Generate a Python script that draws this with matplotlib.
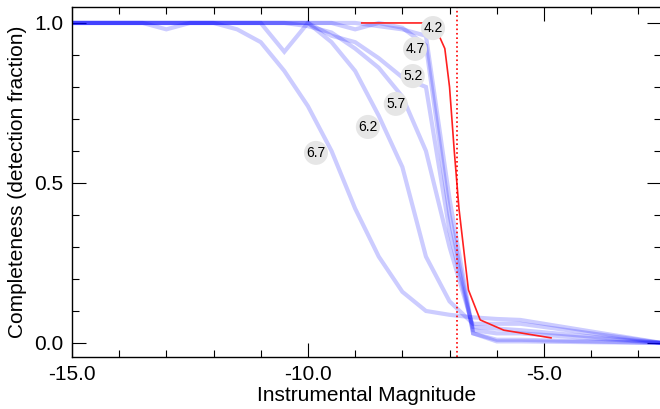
import matplotlib
matplotlib.use('Agg')
import matplotlib.pyplot as plt
from matplotlib.ticker import MultipleLocator, FormatStrFormatter

plt.rcParams['font.family'] = ['Liberation Sans', 'DejaVu Sans']

# magnitude bins of the simulated-star curves
mag = [-15.0, -14.5, -14.0, -13.5, -13.0, -12.5, -12.0, -11.5, -11.0, -10.5,
       -10.0, -9.5, -9.0, -8.5, -8.0, -7.5, -7.0, -6.5, -6.0, -5.5, -2.5]

# completeness per curve (label = value in the grey circle)
c67 = [1.00, 1.00, 1.00, 1.00, 1.00, 1.00, 1.00, 0.98, 0.94, 0.85,
       0.74, 0.60, 0.42, 0.27, 0.16, 0.10, 0.088, 0.080, 0.075, 0.072, 0.0]
c62 = [1.00, 1.00, 1.00, 1.00, 1.00, 1.00, 1.00, 1.00, 1.00, 0.91,
       1.00, 0.94, 0.85, 0.71, 0.55, 0.27, 0.13, 0.06, 0.06, 0.06, 0.0]
c57 = [1.00, 1.00, 1.00, 1.00, 0.98, 1.00, 1.00, 1.00, 1.00, 1.00,
       0.99, 0.97, 0.92, 0.86, 0.77, 0.60, 0.30, 0.05, 0.045, 0.04, 0.0]
c52 = [1.00, 1.00, 1.00, 1.00, 1.00, 1.00, 1.00, 1.00, 1.00, 1.00,
       1.00, 0.96, 0.94, 0.89, 0.83, 0.80, 0.35, 0.04, 0.03, 0.03, 0.0]
c47 = [1.00, 1.00, 1.00, 1.00, 1.00, 1.00, 1.00, 1.00, 1.00, 1.00,
       1.00, 1.00, 0.98, 1.00, 0.985, 0.93, 0.40, 0.03, 0.01, 0.01, 0.0]
c42 = [1.00, 1.00, 1.00, 1.00, 1.00, 1.00, 1.00, 1.00, 1.00, 1.00,
       1.00, 1.00, 1.00, 0.99, 0.98, 0.96, 0.45, 0.03, 0.005, 0.005, 0.0]
curves = [c67, c62, c57, c52, c47, c42]

# observed curve (red)
obs_mag = [-8.86, -7.35, -7.2, -7.1, -7.0, -6.9, -6.8, -6.6, -6.35, -5.85, -4.85]
obs_val = [1.00, 1.00, 0.953, 0.92, 0.80, 0.60, 0.42, 0.166, 0.072, 0.04, 0.016]

limit_mag = -6.84

# labels and where they sit (mag, completeness)
lab_txt = ['4.2', '4.7', '5.2', '5.7', '6.2', '6.7']
lab_x = [-7.35, -7.73, -7.78, -8.14, -8.73, -9.83]
lab_y = [0.984, 0.919, 0.834, 0.747, 0.675, 0.594]

fig = plt.figure(figsize=(6.6, 4.09), dpi=100)
ax = fig.add_axes([0.109, 0.127, 0.8925, 0.856])

for c in curves:
    ax.plot(mag, c, color='blue', alpha=0.2, lw=3, solid_joinstyle='miter')

ax.plot(obs_mag, obs_val, color='#ff2020', lw=1.2)
ax.axvline(limit_mag, color='red', lw=1.2, ls=':')

for t, x, y in zip(lab_txt, lab_x, lab_y):
    ax.text(x, y, t, fontsize=10, ha='center', va='center', zorder=5,
            bbox=dict(boxstyle='circle,pad=0.17', fc='#e6e6e6', ec='none'))

ax.set_xlim(-15, -2.52)
ax.set_ylim(-0.044, 1.05)
ax.xaxis.set_major_locator(MultipleLocator(5))
ax.xaxis.set_minor_locator(MultipleLocator(1))
ax.yaxis.set_major_locator(MultipleLocator(0.5))
ax.yaxis.set_minor_locator(MultipleLocator(0.1))
ax.xaxis.set_major_formatter(FormatStrFormatter('%.1f'))
ax.yaxis.set_major_formatter(FormatStrFormatter('%.1f'))
ax.tick_params(which='both', direction='in', top=True, right=True, width=0.8, labelsize=15)
ax.tick_params(which='major', length=10)
ax.tick_params(which='minor', length=5)
ax.tick_params(axis='x', which='major', pad=6)
ax.tick_params(axis='y', which='major', pad=6)
for s in ax.spines.values():
    s.set_linewidth(1.0)

ax.set_xlabel('Instrumental Magnitude', fontsize=15)
ax.set_ylabel('Completeness (detection fraction)', fontsize=15)
ax.xaxis.set_label_coords(0.5, -0.083)
ax.yaxis.set_label_coords(-0.076, 0.5)

fig.savefig('out.png', dpi=100)
